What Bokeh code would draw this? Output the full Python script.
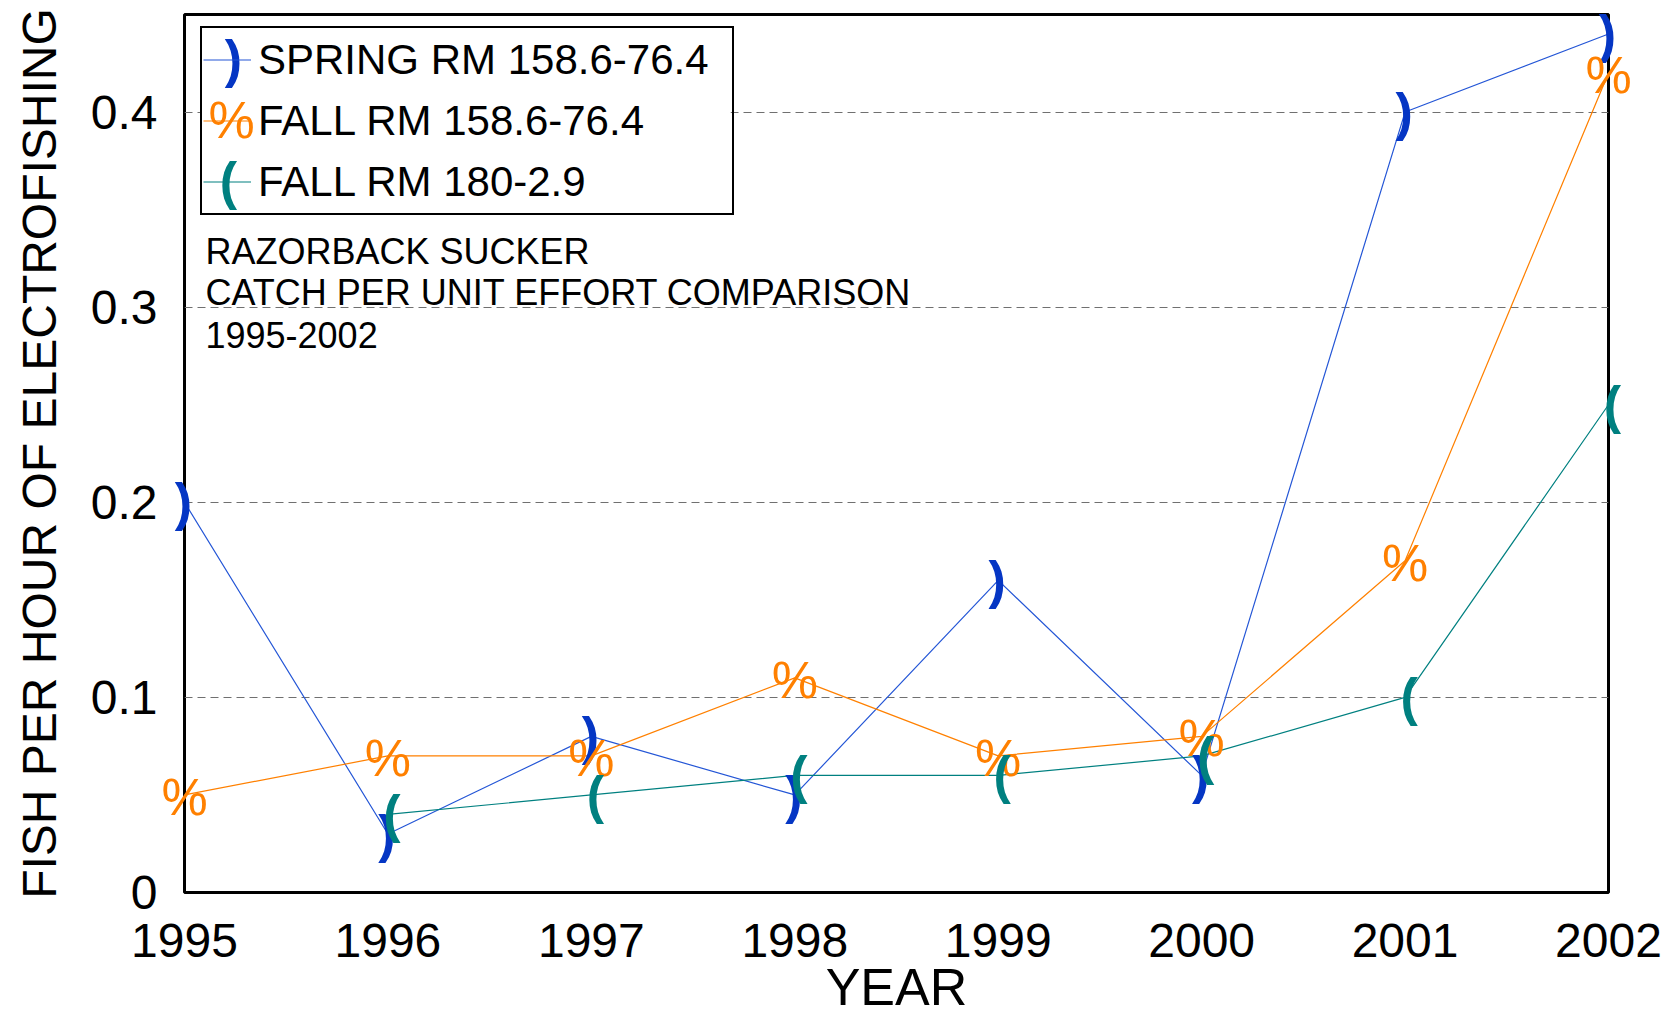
from bokeh.plotting import figure
from bokeh.models import (Range1d, FixedTicker, Legend, LegendItem, Label, ColumnDataSource,
                          BoxAnnotation)
from bokeh.core.properties import value
from bokeh.embed import file_html
from bokeh.resources import INLINE

# ---- data ----
years = [1995, 1996, 1997, 1998, 1999, 2000, 2001, 2002]
spring_158 = [0.20, 0.03, 0.08, 0.05, 0.16, 0.06, 0.40, 0.44]
fall_158 = [0.05, 0.07, 0.07, 0.11, 0.07, 0.08, 0.17, 0.42]
years_180 = [1996, 1997, 1998, 1999, 2000, 2001, 2002]
fall_180 = [0.04, 0.05, 0.06, 0.06, 0.07, 0.10, 0.25]
series_names = ["SPRING RM 158.6-76.4", "FALL RM 158.6-76.4", "FALL RM 180-2.9"]
series_symbols = [")", "%", "("]
y_ticks = [0, 0.1, 0.2, 0.3, 0.4]
y_tick_labels = ["0", "0.1", "0.2", "0.3", "0.4"]
x_title = "YEAR"
y_title = "FISH PER HOUR OF ELECTROFISHING"
note_lines = ["RAZORBACK SUCKER", "CATCH PER UNIT EFFORT COMPARISON", "1995-2002"]

FONT = "Liberation Sans"
BLUE_M, BLUE_L = "#0536c4", "#2456d6"
ORANGE = "#ff8000"
TEAL = "#008080"
GRID_COL = "#707070"

W, H = 1670, 1019
p = figure(width=W, height=H, output_backend="svg", toolbar_location=None,
           x_range=Range1d(1995, 2002), y_range=Range1d(0, 0.45),
           min_border_left=184, min_border_right=62, min_border_top=14, min_border_bottom=127)
p.background_fill_color = "white"
p.border_fill_color = "white"
p.outline_line_color = "black"
p.outline_line_width = 3

# axes
p.xaxis.ticker = FixedTicker(ticks=years)
p.yaxis.ticker = FixedTicker(ticks=y_ticks)
p.yaxis.major_label_overrides = {t: l for t, l in zip(y_ticks, y_tick_labels)}
for ax in (p.xaxis, p.yaxis):
    ax.axis_line_color = None
    ax.major_tick_line_color = None
    ax.minor_tick_line_color = None
    ax.major_label_text_font = FONT
    ax.major_label_text_font_size = "48px"
    ax.major_label_text_color = "black"
    ax.axis_label_text_font = FONT
    ax.axis_label_text_font_style = "normal"
    ax.axis_label_text_color = "black"
p.xaxis.axis_label = x_title
p.xaxis.axis_label_text_font_size = "52px"
p.xaxis.major_label_standoff = 25
p.xaxis.axis_label_standoff = -2
p.yaxis.axis_label = y_title
p.yaxis.axis_label_text_font_size = "48px"
p.yaxis.major_label_standoff = 21
p.yaxis.axis_label_standoff = 22

# grid lines
p.xgrid.grid_line_color = None
p.ygrid.ticker = FixedTicker(ticks=y_ticks[1:])
p.ygrid.grid_line_color = GRID_COL
p.ygrid.grid_line_dash = "8 5"
p.ygrid.grid_line_width = 1

# white backing of the legend box (covers the grid line behind it)
LEG_X, LEG_Y, LEG_W, LEG_H = 16, 677, 530, 185
p.add_layout(BoxAnnotation(left=LEG_X, right=LEG_X + LEG_W, bottom=LEG_Y, top=LEG_Y + LEG_H,
                           left_units="screen", right_units="screen",
                           bottom_units="screen", top_units="screen",
                           fill_color="white", fill_alpha=1.0, line_color=None,
                           level="underlay"))

src_a = ColumnDataSource(dict(x=years, y=spring_158))
src_b = ColumnDataSource(dict(x=years, y=fall_158))
src_c = ColumnDataSource(dict(x=years_180, y=fall_180))

la = p.line("x", "y", source=src_a, line_color=BLUE_L, line_width=1.2)
lb = p.line("x", "y", source=src_b, line_color=ORANGE, line_width=1.2)
lc = p.line("x", "y", source=src_c, line_color=TEAL, line_width=1.2)

ta = p.text("x", "y", text=value(series_symbols[0]), source=src_a, text_color=BLUE_M,
            text_font=value(FONT), text_font_style="bold", text_font_size="52px",
            text_align="center", text_baseline="middle", x_offset=-1, level="overlay")
tb = p.text("x", "y", text=value(series_symbols[1]), source=src_b, text_color=ORANGE,
            text_font=value(FONT), text_font_size="52px",
            text_align="center", text_baseline="middle", y_offset=2, level="overlay")
tc = p.text("x", "y", text=value(series_symbols[2]), source=src_c, text_color=TEAL,
            text_font=value(FONT), text_font_style="bold", text_font_size="52px",
            text_align="center", text_baseline="middle", x_offset=4, level="overlay")

# legend symbols (drawn under a transparent legend)
leg_y = [833.7, 772.7, 711.7]
leg_x = [49, 47, 44]
leg_cols = [BLUE_M, ORANGE, TEAL]
for sym, yy, xx, col in zip(series_symbols, leg_y, leg_x, leg_cols):
    bold = "normal" if sym == "%" else "bold"
    p.add_layout(Label(x=xx, y=yy, x_units="screen", y_units="screen", text=sym,
                       text_color=col, text_font=FONT, text_font_style=bold,
                       text_font_size="52px",
                       text_align="center", text_baseline="middle"))

legend = Legend(items=[LegendItem(label=series_names[0], renderers=[la]),
                       LegendItem(label=series_names[1], renderers=[lb]),
                       LegendItem(label=series_names[2], renderers=[lc])],
                location=(LEG_X, LEG_Y), margin=0, padding=1, spacing=0,
                glyph_width=48, glyph_height=61, label_height=61, label_width=473,
                label_standoff=7, label_text_font=FONT, label_text_font_size="42px",
                label_text_baseline="middle", label_text_color="black",
                border_line_color="black", border_line_width=2, border_line_alpha=1.0,
                background_fill_color=None)
p.add_layout(legend)

# note text
for line, yy in zip(note_lines, [641, 600, 558]):
    p.add_layout(Label(x=21, y=yy, x_units="screen", y_units="screen", text=line,
                       text_font=FONT, text_font_size="36px", text_color="black",
                       text_align="left", text_baseline="middle"))

open("out.html", "w").write(file_html(p, INLINE))
